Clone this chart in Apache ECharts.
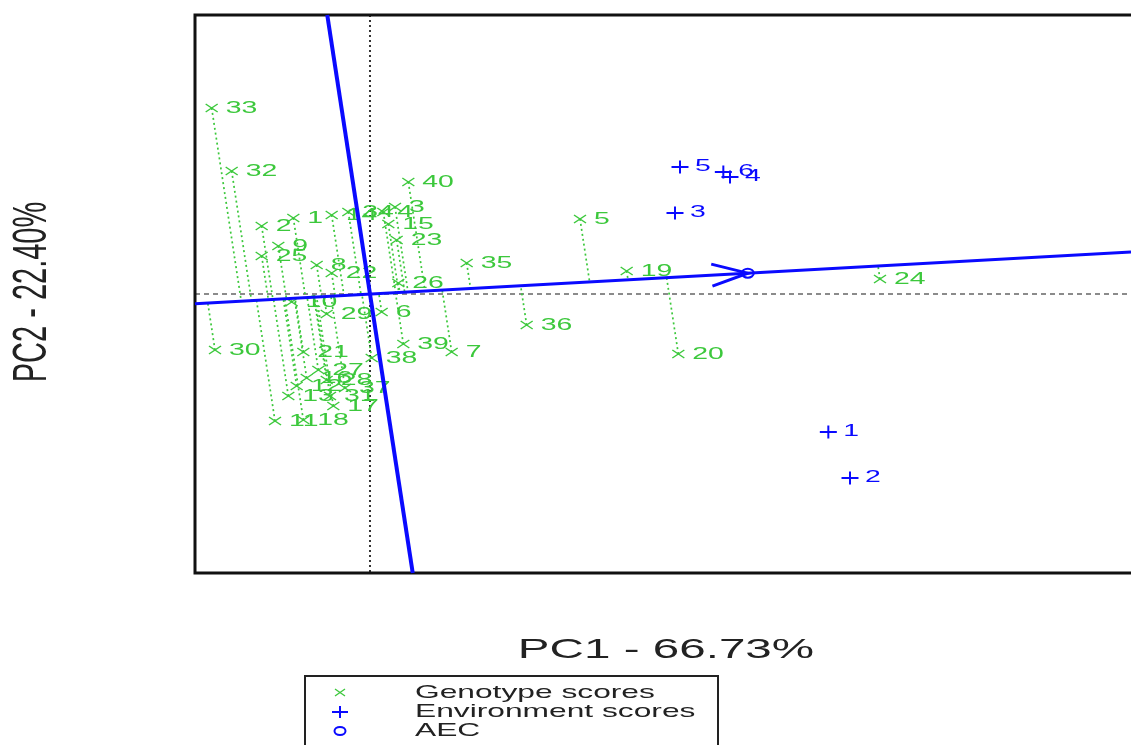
<!DOCTYPE html>
<html>
<head>
<meta charset="utf-8">
<script src="https://cdn.jsdelivr.net/npm/echarts@6/dist/echarts.min.js"></script>
<style>
  html, body { margin: 0; padding: 0; background: #fff; }
  #chart { width: 1131px; height: 745px; }
</style>
</head>
<body>
<div id="chart"></div>
<script>
// GGE biplot, "average environment coordination" view.
const genotypeLabels = ['1','2','3','4','5','6','7','8','9','10','11','12','13','14','15','16','17','18','19','20',
                        '21','22','23','24','25','26','27','28','29','30','31','32','33','34','35','36','37','38','39','40'];
const genotypePC1 = [-0.46, -0.65, 0.15, 0.08, 1.26, 0.07, 0.49, -0.32, -0.55, -0.47,
                     -0.57, -0.44, -0.49, -0.23, 0.11, -0.38, -0.22, -0.40, 1.54, 1.85,
                     -0.40, -0.23, 0.16, 3.06, -0.65, 0.17, -0.31, -0.26, -0.26, -0.93,
                     -0.24, -0.83, -0.95, -0.13, 0.58, 0.94, -0.15, 0.01, 0.20, 0.23];
const genotypePC2 = [0.76, 0.68, 0.87, 0.82, 0.75, -0.18, -0.58, 0.29, 0.48, -0.08,
                     -1.27, -0.92, -1.02, 0.79, 0.70, -0.84, -1.12, -1.26, 0.23, -0.60,
                     -0.58, 0.21, 0.54, 0.15, 0.38, 0.11, -0.76, -0.86, -0.20, -0.56,
                     -1.02, 1.23, 1.86, 0.82, 0.31, -0.31, -0.94, -0.64, -0.50, 1.12];
const environmentLabels = ['1','2','3','4','5','6'];
const environmentPC1 = [2.75, 2.88, 1.83, 2.16, 1.86, 2.12];
const environmentPC2 = [-1.38, -1.84, 0.81, 1.17, 1.27, 1.22];
const axisTitles = ['PC1 - 66.73%', 'PC2 - 22.40%'];
const legendLabels = ['Genotype scores', 'Environment scores', 'AEC'];

const GREEN = '#3cc83c';
const BLUE = '#0a0aff';
const FONT = '"Liberation Sans", Arial, sans-serif';
const STRETCH = 1.67;              // glyphs are drawn wide, as in the biplot device
const X_RANGE = [-1.05, 4.566];    // visible part of the PC1 range
const Y_RANGE = [-2.79, 2.79];

// average environment = mean of the environment scores
const aec = [
  environmentPC1.reduce((a, b) => a + b, 0) / environmentPC1.length,
  environmentPC2.reduce((a, b) => a + b, 0) / environmentPC2.length
];

// segment of the line through the origin with direction d, clipped to the plot range
function clipThroughOrigin(dx, dy) {
  let tmin = -Infinity, tmax = Infinity;
  [[dx, X_RANGE], [dy, Y_RANGE]].forEach(([d, r]) => {
    if (d !== 0) {
      const t1 = r[0] / d, t2 = r[1] / d;
      tmin = Math.max(tmin, Math.min(t1, t2));
      tmax = Math.min(tmax, Math.max(t1, t2));
    }
  });
  return [[tmin * dx, tmin * dy], [tmax * dx, tmax * dy]];
}

function projectOnAec(x, y) {
  const t = (x * aec[0] + y * aec[1]) / (aec[0] * aec[0] + aec[1] * aec[1]);
  return [t * aec[0], t * aec[1]];
}

const genotypeData = genotypePC1.map((x, i) => [x, genotypePC2[i], i]);
const environmentData = environmentPC1.map((x, i) => [x, environmentPC2[i], i]);

// plot frame (left, top and bottom sides; the right side runs off the page) and zero lines
function renderReference(params, api) {
  const tl = api.coord([X_RANGE[0], Y_RANGE[1]]), tr = api.coord([X_RANGE[1], Y_RANGE[1]]);
  const bl = api.coord([X_RANGE[0], Y_RANGE[0]]), br = api.coord([X_RANGE[1], Y_RANGE[0]]);
  const top = api.coord([0, Y_RANGE[1]]), bottom = api.coord([0, Y_RANGE[0]]);
  const left = api.coord([X_RANGE[0], 0]), right = api.coord([X_RANGE[1], 0]);
  return {
    type: 'group',
    children: [
      { type: 'line', shape: { x1: top[0], y1: top[1], x2: bottom[0], y2: bottom[1] },
        style: { stroke: '#333', lineWidth: 2, lineDash: [2, 3] } },
      { type: 'line', shape: { x1: left[0], y1: left[1], x2: right[0], y2: right[1] },
        style: { stroke: '#666', lineWidth: 1.4, lineDash: [5, 4] } },
      { type: 'polyline', shape: { points: [[tr[0] + 5, tr[1]], tl, bl, [br[0] + 5, br[1]]] },
        style: { stroke: '#111', lineWidth: 3, fill: null, lineJoin: 'miter' } }
    ]
  };
}

function renderGenotype(params, api) {
  const gx = api.value(0), gy = api.value(1);
  const p = api.coord([gx, gy]);
  const q = api.coord(projectOnAec(gx, gy));
  const label = genotypeLabels[api.value(2)];
  return {
    type: 'group',
    children: [
      { type: 'line', shape: { x1: p[0], y1: p[1], x2: q[0], y2: q[1] },
        style: { stroke: GREEN, lineWidth: 1.7, lineDash: [2, 3] } },
      { type: 'line', shape: { x1: p[0] - 6, y1: p[1] - 4, x2: p[0] + 6, y2: p[1] + 4 },
        style: { stroke: GREEN, lineWidth: 1.5 } },
      { type: 'line', shape: { x1: p[0] - 6, y1: p[1] + 4, x2: p[0] + 6, y2: p[1] - 4 },
        style: { stroke: GREEN, lineWidth: 1.5 } },
      { type: 'text', x: p[0] + 14, y: p[1], scaleX: STRETCH,
        style: { text: label, fill: GREEN, font: '17px ' + FONT,
                 align: 'left', verticalAlign: 'middle' } }
    ]
  };
}

function renderAecAxes(params, api) {
  const abs = clipThroughOrigin(aec[0], aec[1]);
  const ord = clipThroughOrigin(-aec[1], aec[0]);
  const a1 = api.coord(abs[0]), a2 = api.coord(abs[1]);
  const o1 = api.coord(ord[0]), o2 = api.coord(ord[1]);
  const origin = api.coord([0, 0]);
  const tip = api.coord(aec);
  const len = Math.hypot(tip[0] - origin[0], tip[1] - origin[1]);
  const ux = (tip[0] - origin[0]) / len, uy = (tip[1] - origin[1]) / len;
  const nx = -uy, ny = ux;
  const back = 36, side = 11;
  const b1 = [tip[0] - back * ux + side * nx, tip[1] - back * uy + side * ny];
  const b2 = [tip[0] - back * ux - side * nx, tip[1] - back * uy - side * ny];
  const blue = { stroke: BLUE, lineWidth: 3 };
  return {
    type: 'group',
    children: [
      { type: 'line', shape: { x1: a1[0], y1: a1[1], x2: a2[0], y2: a2[1] }, style: blue },
      { type: 'line', shape: { x1: o1[0], y1: o1[1], x2: o2[0], y2: o2[1] }, style: Object.assign({}, blue, { lineWidth: 4 }) },
      { type: 'polyline', shape: { points: [b1, tip, b2] }, style: Object.assign({ fill: null, lineJoin: 'miter' }, blue) },
      { type: 'ellipse', shape: { cx: tip[0], cy: tip[1], rx: 6, ry: 4.5 },
        style: { stroke: BLUE, fill: null, lineWidth: 2 } }
    ]
  };
}

function renderEnvironment(params, api) {
  const p = api.coord([api.value(0), api.value(1)]);
  const label = environmentLabels[api.value(2)];
  return {
    type: 'group',
    children: [
      { type: 'line', shape: { x1: p[0] - 8.5, y1: p[1], x2: p[0] + 8.5, y2: p[1] },
        style: { stroke: BLUE, lineWidth: 2 } },
      { type: 'line', shape: { x1: p[0], y1: p[1] - 6.5, x2: p[0], y2: p[1] + 6.5 },
        style: { stroke: BLUE, lineWidth: 2 } },
      { type: 'text', x: p[0] + 15, y: p[1] - 1, scaleX: STRETCH,
        style: { text: label, fill: BLUE, font: '17px ' + FONT,
                 align: 'left', verticalAlign: 'middle' } }
    ]
  };
}

function legendText(text, y) {
  return { type: 'text', x: 415, y: y, scaleX: STRETCH,
           style: { text: text, fill: '#222', font: '19px ' + FONT, align: 'left', verticalAlign: 'middle' } };
}

const chart = echarts.init(document.getElementById('chart'), null, { renderer: 'canvas' });
chart.setOption({
  animation: false,
  backgroundColor: '#fff',
  grid: { left: 195, top: 15, right: 0, height: 558, show: false },
  xAxis: { type: 'value', min: X_RANGE[0], max: X_RANGE[1], show: false },
  yAxis: { type: 'value', min: Y_RANGE[0], max: Y_RANGE[1], show: false },
  series: [
    { type: 'custom', renderItem: renderReference, data: [[0, 0]], silent: true, clip: false },
    { type: 'custom', renderItem: renderGenotype, data: genotypeData, silent: true },
    { type: 'custom', renderItem: renderAecAxes, data: [[0, 0]], silent: true },
    { type: 'custom', renderItem: renderEnvironment, data: environmentData, silent: true }
  ],
  graphic: [
    { type: 'text', x: 666, y: 650, scaleX: STRETCH,
      style: { text: axisTitles[0], fill: '#222', font: '28.5px ' + FONT, align: 'center', verticalAlign: 'middle' } },
    { type: 'group', x: 33, y: 292, scaleX: STRETCH,
      children: [
        { type: 'text', rotation: Math.PI / 2,
          style: { text: axisTitles[1], fill: '#222', font: '29px ' + FONT, align: 'center', verticalAlign: 'middle' } }
      ] },
    { type: 'rect', shape: { x: 305, y: 676, width: 413, height: 120 },
      style: { stroke: '#222', fill: '#fff', lineWidth: 2 } },
    { type: 'line', shape: { x1: 335, y1: 689, x2: 345, y2: 696 }, style: { stroke: GREEN, lineWidth: 1.3 } },
    { type: 'line', shape: { x1: 335, y1: 696, x2: 345, y2: 689 }, style: { stroke: GREEN, lineWidth: 1.3 } },
    { type: 'line', shape: { x1: 332, y1: 712, x2: 348, y2: 712 }, style: { stroke: BLUE, lineWidth: 2 } },
    { type: 'line', shape: { x1: 340, y1: 706, x2: 340, y2: 718 }, style: { stroke: BLUE, lineWidth: 2 } },
    { type: 'ellipse', shape: { cx: 340, cy: 731, rx: 5.5, ry: 4 }, style: { stroke: BLUE, fill: null, lineWidth: 2 } },
    legendText(legendLabels[0], 693),
    legendText(legendLabels[1], 712),
    legendText(legendLabels[2], 731)
  ]
});
</script>
</body>
</html>
